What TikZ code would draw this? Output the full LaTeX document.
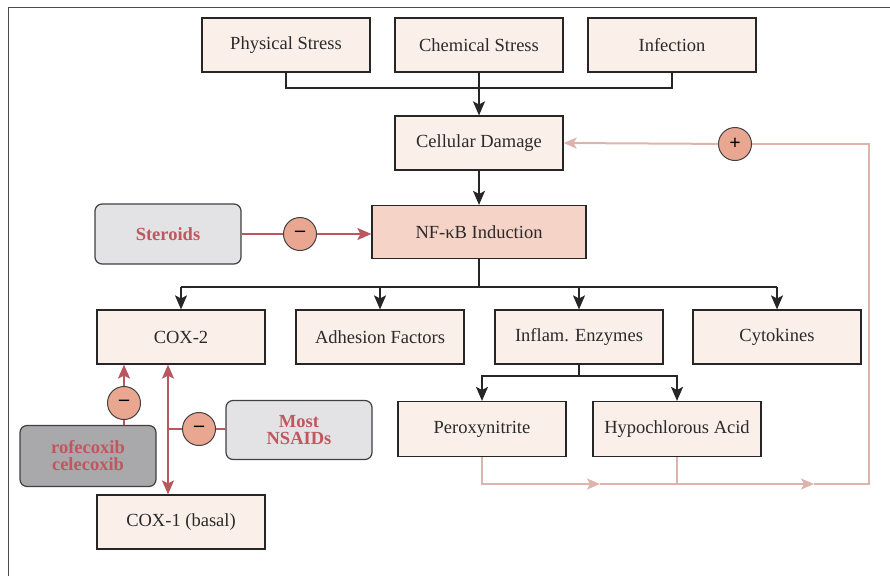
\documentclass[tikz,border=0pt]{standalone}
\usepackage{fontspec}
\setmainfont{Liberation Serif}
\usetikzlibrary{arrows.meta}
\definecolor{boxfill}{HTML}{FBEFEA}
\definecolor{nffill}{HTML}{F5D3C6}
\definecolor{redln}{HTML}{B9575E}
\definecolor{pinkln}{HTML}{DDB3AD}
\definecolor{circfill}{HTML}{E9A792}
\definecolor{drugfill}{HTML}{E3E3E5}
\definecolor{darkdrug}{HTML}{A9A9AB}
\definecolor{drugtext}{HTML}{C0575F}
\definecolor{txt}{HTML}{2A2A2A}
\tikzset{
  box/.style={draw=black!85, line width=1.2pt, fill=boxfill, minimum width=168pt, minimum height=54pt, inner sep=0pt, text=txt},
  drug/.style={draw=black!75, line width=1.2pt, fill=drugfill, rounded corners=7pt, minimum width=146pt, minimum height=60pt, inner sep=0pt, text=drugtext, font=\fontsize{18.5}{20}\selectfont\bfseries, align=center},
  sign/.style={circle, draw=black!75, line width=1pt, fill=circfill, minimum size=33pt, inner sep=0pt, font=\fontsize{20}{22}\selectfont\bfseries},
  conn/.style={draw=black!85, line width=1.3pt},
  arr/.style={conn, -{Stealth[length=14pt,width=12pt,inset=3pt]}},
  rl/.style={draw=redln, line width=2.2pt},
  rarr/.style={rl, -{Stealth[length=14pt,width=12pt,inset=3pt]}},
  pl/.style={draw=pinkln, line width=2pt},
  parr/.style={pl, -{Stealth[length=13pt,width=11pt,inset=3pt]}},
}
\begin{document}
\begin{tikzpicture}[x=1pt,y=-1pt, every node/.style={font=\fontsize{18.5}{20}\selectfont}]
\useasboundingbox (0,0) rectangle (890,576);
\draw[black!70, line width=0.9pt] (8,576) -- (8,7) -- (890,7);

% top row
\node[box] (phys) at (286,45) {Physical Stress};
\node[box] (chem) at (479,45) {Chemical Stress};
\node[box] (inf) at (672,45) {Infection};
\node[box] (cell) at (479,143) {Cellular Damage};
\node[box, fill=nffill, minimum width=214pt, minimum height=53pt] (nf) at (479,232) {NF-κB Induction};

% second row
\node[box] (cox2) at (181,337) {COX-2};
\node[box] (adh) at (380,337) {Adhesion Factors};
\node[box] (enz) at (579,337) {Inflam. Enzymes};
\node[box] (cyto) at (777,337) {Cytokines};

\node[box, minimum height=55pt] (per) at (482,429) {Peroxynitrite};
\node[box, minimum height=55pt] (hypo) at (677,429) {Hypochlorous Acid};

\node[box] (cox1) at (181,522) {COX-1 (basal)};

% drugs
\node[drug] (ster) at (168,234) {Steroids};
\node[drug, minimum width=136pt, minimum height=61pt, fill=darkdrug] (rofe) at (88,456) {rofecoxib\\[-3pt]celecoxib};
\node[drug, minimum height=59pt] (nsaid) at (299,430) {Most\\[-3pt]NSAIDs};

% coordinates
\coordinate (j1) at (479,88);
\coordinate (j2) at (479,287);
\coordinate (j3) at (579,376);
\coordinate (fb) at (869,484);
\coordinate (fbt) at (869,144);
\coordinate (m1) at (600,484);
\coordinate (m2) at (814,484);
\coordinate (dx) at (168,429);

% black connectors
\draw[conn] (phys.south) |- (j1) -| (inf.south);
\draw[arr] (chem.south) -- (cell.north);
\draw[arr] (cell.south) -- (nf.north);
\draw[conn] (nf.south) -- (j2);
\draw[conn] (cox2.north |- j2) -- (cyto.north |- j2);
\draw[arr] (cox2.north |- j2) -- (cox2.north);
\draw[arr] (adh.north |- j2) -- (adh.north);
\draw[arr] (enz.north |- j2) -- (enz.north);
\draw[arr] (cyto.north |- j2) -- (cyto.north);
\draw[conn] (enz.south) -- (j3);
\draw[arr] (j3) -| (per.north);
\draw[arr] (j3) -| (hypo.north);

% feedback loop
\node[sign] (plus) at (735,144) {+};
\draw[parr] (per.south) |- (m1);
\draw[parr] (m1) -- (m2);
\draw[pl] (m2) -- (fb) -- (fbt) -- (plus);
\draw[pl] (hypo.south) -- (hypo.south |- fb);
\draw[parr] (plus) -- (cell.east);

% steroids inhibition
\node[sign] (s1) at (300,234) {–};
\draw[rl] (ster.east |- s1) -- (s1);
\draw[rarr] (s1) -- (nf.west |- s1);

% cox inhibition
\node[sign] (s2) at (124,403) {–};
\draw[rl] (rofe.north -| s2) -- (s2);
\draw[rarr] (s2) -- (s2 |- cox2.south);
\draw[rl, {Stealth[length=14pt,width=12pt,inset=3pt]}-{Stealth[length=14pt,width=12pt,inset=3pt]}] (dx |- cox2.south) -- (dx |- cox1.north);
\node[sign] (s3) at (199,429) {–};
\draw[rl] (dx) -- (s3);
\draw[rl] (s3) -- (nsaid.west |- s3);
\end{tikzpicture}
\end{document}
